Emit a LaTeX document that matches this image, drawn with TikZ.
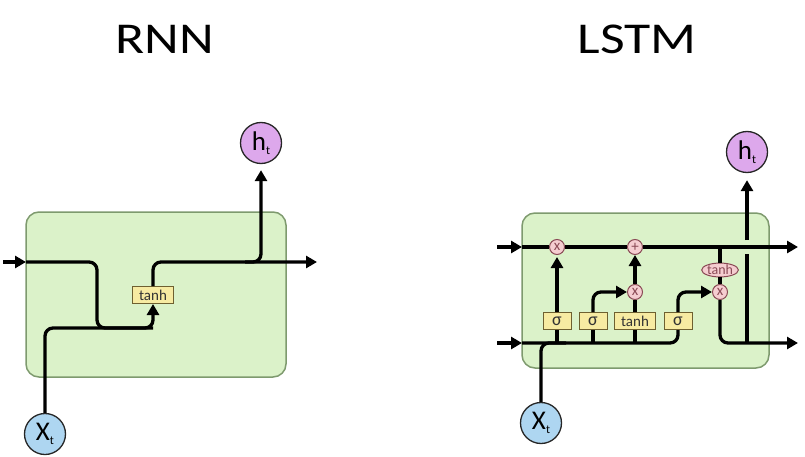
\documentclass[tikz,border=0pt]{standalone}
\usepackage{fontspec}
\setmainfont{Carlito}
\usetikzlibrary{arrows.meta,shapes.geometric,calc}
\definecolor{cellgreen}{HTML}{DBF2C9}
\definecolor{celledge}{HTML}{7E9A6E}
\definecolor{hpurple}{HTML}{DDA8EC}
\definecolor{xblue}{HTML}{AED6F1}
\definecolor{gateyel}{HTML}{F7EBA2}
\definecolor{gateedge}{HTML}{6E6030}
\definecolor{oppink}{HTML}{F5CDD0}
\definecolor{opedge}{HTML}{8A4A55}
\newcommand{\subt}{\raisebox{-0.35ex}{\fontsize{12}{12}\selectfont t}}
\begin{document}
\begin{tikzpicture}[x=1pt,y=-1pt,
  wire/.style={line width=3.3pt, black},
  tip/.style={-{Triangle[length=11pt,width=12pt]}},
  cellbox/.style={draw=celledge, fill=cellgreen, line width=1.5pt, rounded corners=13pt},
  io/.style={circle, draw=black!85, line width=1.3pt, minimum size=41pt, inner sep=0pt, font=\fontsize{27}{27}\selectfont},
  gatebox/.style={rectangle, draw=gateedge, fill=gateyel, line width=1pt, minimum height=17pt, inner sep=1pt, font=\fontsize{15}{15}\selectfont, text=black!80},
  sigbox/.style={gatebox, minimum width=28pt, font=\fontsize{18}{18}\selectfont},
  op/.style={circle, draw=opedge, fill=oppink, line width=1pt, minimum size=15pt, inner sep=0pt, font=\fontsize{15}{15}\selectfont, text=opedge},
  title/.style={font=\fontsize{44}{44}\selectfont, inner sep=0pt}]
\useasboundingbox (0,0) rectangle (805,457);

% titles
\node[title] (t1) at (165,39) {\scalebox{1.22}[1]{RNN}};
\node[title] (t2) at (637,39) {\scalebox{1.22}[1]{LSTM}};

% ---------- RNN ----------
\draw[cellbox] (26,212) rectangle (286,377);
\node[io, fill=hpurple] (ht) at (261,143) {h\subt};
\node[io, fill=xblue] (xt) at (45,434) {X\subt};
\node[gatebox, minimum width=41pt] (th) at (153,295) {tanh};
\coordinate (rin) at (3,262);
\coordinate (rinT) at (26,262);
\coordinate (rdown) at (97,328);
\coordinate (rjoin) at (153,328);
\coordinate (rout) at (317,262);
\coordinate (rbr) at (245,262);

\draw[wire,tip] (rin) -- (rinT);
\draw[wire,rounded corners=8pt] (rinT) -| (rdown) -- (rjoin);
\draw[wire,rounded corners=8pt,tip] (xt.north) |- (rjoin) -- (th.south);
\draw[wire,rounded corners=8pt,tip] (th.north) |- (rout);
\draw[wire,rounded corners=8pt,tip,shorten >=6pt] (rbr) -| (ht.south);

% ---------- LSTM ----------
\draw[cellbox] (522,213) rectangle (769,368);
\node[op] (m1) at (557,247) {x};
\node[op] (ad) at (635,247) {+};
\node[op] (m2) at (635,292) {x};
\node[op] (m3) at (720,292) {x};
\node[ellipse, draw=opedge, fill=oppink, line width=1pt, minimum width=36pt, minimum height=13pt, inner sep=0pt, font=\fontsize{14}{14}\selectfont, text=opedge] (te) at (720,270) {tanh};
\node[sigbox] (s1) at (557,321) {σ};
\node[sigbox] (s2) at (593,321) {σ};
\node[gatebox, minimum width=41pt] (g) at (635,321) {tanh};
\node[sigbox] (s3) at (678,321) {σ};
\node[io, fill=hpurple] (ht2) at (747,152) {h\subt};
\node[io, fill=xblue] (xt2) at (541,423) {X\subt};

\coordinate (cin) at (497,247);
\coordinate (cinT) at (522,247);
\coordinate (cout) at (798,247);
\coordinate (cbr) at (720,247);
\coordinate (lin) at (497,343);
\coordinate (linT) at (522,343);
\coordinate (lout) at (798,343);
\coordinate (hb) at (747,343);
\coordinate (hg1) at (747,254);
\coordinate (hg2) at (747,240);

\draw[wire,tip] (cin) -- (cinT);
\draw[wire] (cinT) -- (m1);
\draw[wire] (m1) -- (ad);
\draw[wire,tip] (ad) -- (cout);
\draw[wire,tip] (lin) -- (linT);
\draw[wire,rounded corners=8pt] (linT) -| (s3.south);
\draw[wire] (s1.south |- linT) -- (s1.south);
\draw[wire] (s2.south |- linT) -- (s2.south);
\draw[wire] (g.south |- linT) -- (g.south);
\draw[wire,rounded corners=8pt] (xt2.north) |- ($(xt2.north |- linT)+(25,0)$);
\draw[wire,tip,shorten >=2pt] (s1.north) -- (m1.south);
\draw[wire,rounded corners=8pt,tip] (s2.north) |- (m2.west);
\draw[wire] (g.north) -- (m2.south);
\draw[wire,tip] (m2.north) -- (ad.south);
\draw[wire,rounded corners=8pt,tip] (s3.north) |- (m3.west);
\draw[wire] (cbr) -- (te.north);
\draw[wire] (te.south) -- (m3.north);
\draw[wire,rounded corners=8pt,tip] (m3.south) |- (lout);
\draw[wire] (hb) -- (hg1);
\draw[wire,tip,shorten >=7pt] (hg2) -- (ht2.south);
\end{tikzpicture}
\end{document}
